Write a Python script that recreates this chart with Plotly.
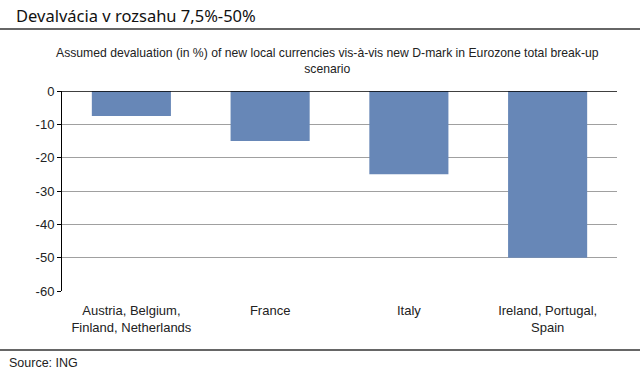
import plotly.graph_objects as go

categories = ["Austria, Belgium,<br>Finland, Netherlands", "France", "Italy", "Ireland, Portugal,<br>Spain"]
values = [-7.5, -15, -25, -50]
y_ticks = [0, -10, -20, -30, -40, -50, -60]

L, R, T, B = 62, 23, 91, 99
W, H = 640, 390
pw = W - L - R
ph = H - T - B

def px(x):
    return (x - L) / pw

def py(y):
    return (H - B - y) / ph

fig = go.Figure()
fig.add_trace(go.Bar(x=categories, y=values, marker=dict(color="#6787b7", line=dict(width=0)), width=0.57))

fig.update_layout(
    width=W, height=H,
    margin=dict(l=L, r=R, t=T, b=B),
    paper_bgcolor="white", plot_bgcolor="white",
    font=dict(family="Liberation Sans, Arial", size=13, color="#222"),
    showlegend=False,
    xaxis=dict(showgrid=False, ticks="", tickfont=dict(size=13, color="#222"), showline=False,
               ticklabelstandoff=10),
    yaxis=dict(range=[-60, 0], tickvals=y_ticks, ticktext=[str(v) for v in y_ticks],
               showgrid=True, gridcolor="#a0a0a0", gridwidth=1, zeroline=False,
               showline=True, linecolor="#000", linewidth=1, ticks="outside", ticklen=4,
               tickcolor="#000", tickfont=dict(size=13, color="#222")),
    shapes=[
        dict(type="line", xref="paper", yref="paper", x0=px(0), x1=px(640), y0=py(29), y1=py(29),
             line=dict(color="#333", width=1.5)),
        dict(type="line", xref="paper", yref="paper", x0=px(0), x1=px(640), y0=py(350), y1=py(350),
             line=dict(color="#333", width=1.5)),
        dict(type="line", xref="paper", yref="y", x0=0, x1=1, y0=0, y1=0,
             line=dict(color="#000", width=1.5)),
    ],
    annotations=[
        dict(text="Devalvácia v rozsahu 7,5%-50%", xref="paper", yref="paper", x=px(14), y=py(15),
             xanchor="left", yanchor="middle", showarrow=False,
             font=dict(family="Noto Sans, DejaVu Sans", size=16.5, color="#111")),
        dict(text="Assumed devaluation (in %) of new local currencies vis-à-vis new D-mark in Eurozone total break-up<br>scenario",
             xref="paper", yref="paper", x=px(327), y=py(61), xanchor="center", yanchor="middle",
             showarrow=False, font=dict(size=12.2, color="#222")),
        dict(text="Source: ING", xref="paper", yref="paper", x=px(7), y=py(363),
             xanchor="left", yanchor="middle", showarrow=False, font=dict(size=12.5, color="#222")),
    ],
)

fig.write_html("out.html", config={"displayModeBar": False},
               post_script="document.body.style.margin='0';document.body.style.padding='0';")
